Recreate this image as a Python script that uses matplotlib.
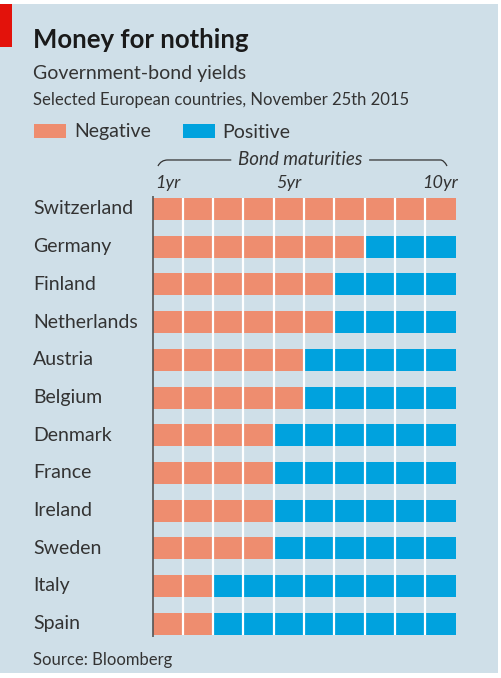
import matplotlib
matplotlib.use("Agg")
import matplotlib.pyplot as plt
import matplotlib.transforms as mtransforms
from matplotlib.patches import Rectangle, PathPatch
from matplotlib.path import Path

countries = ["Switzerland", "Germany", "Finland", "Netherlands", "Austria", "Belgium",
             "Denmark", "France", "Ireland", "Sweden", "Italy", "Spain"]
negative_maturities = [10, 7, 6, 6, 5, 5, 4, 4, 4, 4, 2, 2]
n_maturities = 10
tick_positions = [1, 5, 10]
tick_labels = ["1yr", "5yr", "10yr"]

W, H = 502, 678
BG = "#cfdfe8"
NEG = "#ee8d6f"
POS = "#00a2de"
TXT = "#333333"
FONT = "Lato"

fig = plt.figure(figsize=(W / 100, H / 100), dpi=100)
fig.patch.set_facecolor("white")

def fx(x):
    return x / W

def fy(y):
    return 1 - y / H

# background panel
fig.patches.append(Rectangle((fx(0), fy(673)), fx(498), (673 - 4) / H,
                             transform=fig.transFigure, facecolor=BG, edgecolor="none", zorder=-2))
# red tag
fig.patches.append(Rectangle((fx(0), fy(47)), fx(12), (47 - 4) / H,
                             transform=fig.transFigure, facecolor="#e3120b", edgecolor="none", zorder=-1))

fig.text(fx(33), fy(40), "Money for nothing", fontsize=18.5, fontweight="bold",
         family=FONT, color="#1a1a1a", va="center", ha="left")
fig.text(fx(33), fy(74), "Government-bond yields", fontsize=14, family=FONT,
         color=TXT, va="center", ha="left")
fig.text(fx(33), fy(100), "Selected European countries, November 25th 2015", fontsize=12,
         family=FONT, color=TXT, va="center", ha="left")

# legend
fig.patches.append(Rectangle((fx(34), fy(138)), fx(32), 14 / H, transform=fig.transFigure,
                             facecolor=NEG, edgecolor="none", zorder=2))
fig.text(fx(74), fy(132), "Negative", fontsize=14, family=FONT, color=TXT, va="center", ha="left")
fig.patches.append(Rectangle((fx(183), fy(138)), fx(32), 14 / H, transform=fig.transFigure,
                             facecolor=POS, edgecolor="none", zorder=2))
fig.text(fx(222), fy(132), "Positive", fontsize=14, family=FONT, color=TXT, va="center", ha="left")

# grid axes
gx0, gx1 = 152.5, 455.5
pitch = 37.7
gy0 = 209 - pitch / 2
gy1 = gy0 + pitch * len(countries)
ax = fig.add_axes([fx(gx0), fy(gy1), (gx1 - gx0) / W, (gy1 - gy0) / H])
ax.set_zorder(5)
ax.set_facecolor("none")
ax.set_xlim(0, n_maturities)
ax.set_ylim(len(countries) - 0.5, -0.5)
for s in ax.spines.values():
    s.set_visible(False)
ax.set_xticks([])
ax.set_yticks([])

bh = 22 / pitch
label_tr = mtransforms.blended_transform_factory(fig.transFigure, ax.transData)
for i, neg in enumerate(negative_maturities):
    for j in range(n_maturities):
        ax.barh(i, 1, left=j, height=bh, color=NEG if j < neg else POS, linewidth=0, zorder=2)
    ax.text(fx(33), i, countries[i], fontsize=14, family=FONT, color=TXT, va="center",
            ha="left", transform=label_tr, clip_on=False)

ytop = -bh / 2
ybot = len(countries) - 1 + bh / 2
for j in range(1, n_maturities):
    ax.plot([j, j], [ytop, ybot], color="white", lw=1.6, zorder=3, solid_capstyle="butt")
ax.plot([0, 0], [ytop - 0.05, ybot + 0.05], color="#555555", lw=1.2, zorder=4,
        solid_capstyle="butt", clip_on=False)

# tick labels (italic)
for t, lab in zip(tick_positions, tick_labels):
    ax.text(t - 0.5, -0.69, lab, fontsize=13, style="italic", family=FONT, color=TXT,
            ha="center", va="center", clip_on=False)

# bond maturities bracket
by = -1.3
ax.text(4.88, by, "Bond maturities", fontsize=13.5, style="italic", family=FONT, color=TXT,
        ha="center", va="center", clip_on=False)
codes_l = [Path.MOVETO, Path.CURVE3, Path.CURVE3, Path.LINETO]
verts_l = [(0.18, by + 0.16), (0.28, by), (0.5, by), (2.6, by)]
codes_r = [Path.MOVETO, Path.LINETO, Path.CURVE3, Path.CURVE3]
verts_r = [(7.15, by), (9.5, by), (9.62, by), (9.72, by + 0.16)]
ax.add_patch(PathPatch(Path(verts_l, codes_l), fill=False, ec=TXT, lw=0.9, clip_on=False))
ax.add_patch(PathPatch(Path(verts_r, codes_r), fill=False, ec=TXT, lw=0.9, clip_on=False))

fig.text(fx(33), fy(660), "Source: Bloomberg", fontsize=12, family=FONT, color=TXT,
         va="center", ha="left")

fig.savefig("out.png", dpi=100, facecolor="white")
